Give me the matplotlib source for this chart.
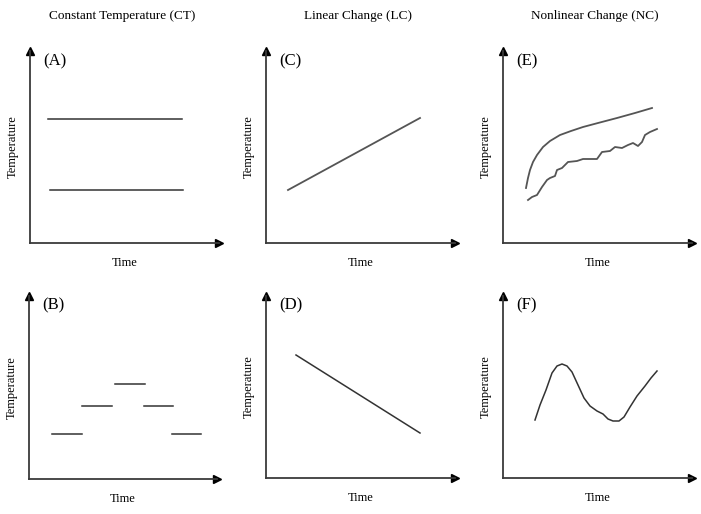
import matplotlib
matplotlib.use("Agg")
import matplotlib.pyplot as plt

plt.rcParams['font.family'] = ['Liberation Serif', 'DejaVu Serif']

W, H = 701, 514

# Column titles
titles = ["Constant Temperature (CT)", "Linear Change (LC)", "Nonlinear Change (NC)"]
panel_labels = ["(A)", "(C)", "(E)", "(B)", "(D)", "(F)"]
x_label = "Time"
y_label = "Temperature"

# Panel A: two constant temperatures
a_t1 = [18, 152]; a_y1 = [124, 124]
a_t2 = [20, 153]; a_y2 = [53, 53]

# Panel B: stepped constant temperatures
b_starts = [23, 53, 86, 115, 143]
b_ends = [53, 83, 116, 144, 172]
b_levels = [45, 73, 95, 73, 45]

# Panel C: linear increase
c_t = [22, 154]; c_y = [53, 125]

# Panel D: linear decrease
d_t = [30, 154]; d_y = [123, 45]

# Panel E: smooth and fluctuating nonlinear increase
e_t1 = [23, 25, 27, 30, 34, 40, 47, 57, 68, 80, 95, 114, 132, 149]
e_y1 = [55, 65, 73, 81, 88, 96, 102, 108, 112, 116, 120, 125, 130, 135]
e_t2 = [25, 29, 34, 39, 44, 47, 52, 54, 59, 65, 74, 80, 94, 99, 107, 112,
        119, 125, 130, 135, 139, 142, 147, 154]
e_y2 = [43, 46, 48, 56, 63, 65, 67, 73, 75, 81, 82, 84, 84, 91, 92, 96,
        95, 98, 100, 97, 101, 108, 111, 114]

# Panel F: oscillating temperature
f_t = [32, 37, 43, 49, 54, 59, 64, 69, 75, 81, 87, 94, 100, 105, 110, 116,
       121, 127, 134, 142, 148, 154]
f_y = [58, 73, 88, 105, 112, 114, 112, 106, 93, 80, 72, 67, 64, 59, 57, 57,
       61, 71, 82, 92, 100, 107]

# Axes geometry (pixel origin, width, height)
origins = [(30, 243), (266, 243), (503, 243), (29, 479), (266, 478), (503, 478)]
ax_w = [189, 189, 189, 188, 189, 189]
ax_h = [192, 192, 192, 183, 182, 182]

fig = plt.figure(figsize=(W / 100, H / 100), dpi=100)

axes = []
for (x0, y0), w, h in zip(origins, ax_w, ax_h):
    ax = fig.add_axes([x0 / W, 1 - y0 / H, w / W, h / H])
    ax.set_xlim(0, w)
    ax.set_ylim(0, h)
    ax.set_facecolor('none')
    for s in ['top', 'right']:
        ax.spines[s].set_visible(False)
    for s in ['left', 'bottom']:
        ax.spines[s].set_color('#3a3a3a')
        ax.spines[s].set_linewidth(1.3)
    ax.set_xticks([]); ax.set_yticks([])
    ax.plot(1, 0, '>', color='black', markersize=6, transform=ax.transAxes, clip_on=False)
    ax.plot(0, 1, '^', color='black', markersize=6, transform=ax.transAxes, clip_on=False)
    ax.set_xlabel(x_label, fontsize=9, labelpad=10)
    ax.set_ylabel(y_label, fontsize=9, labelpad=8)
    axes.append(ax)

axA, axC, axE, axB, axD, axF = axes
line_kw = dict(color='#333333', linewidth=1.1)
gray_kw = dict(color='#555555', linewidth=1.3)

axA.plot(a_t1, a_y1, **line_kw)
axA.plot(a_t2, a_y2, **line_kw)
for s, e, lv in zip(b_starts, b_ends, b_levels):
    axB.plot([s, e], [lv, lv], **line_kw)
axC.plot(c_t, c_y, **gray_kw)
axD.plot(d_t, d_y, **line_kw)
axE.plot(e_t1, e_y1, **gray_kw)
axE.plot(e_t2, e_y2, **gray_kw)
axF.plot(f_t, f_y, **line_kw)

for ax, lab in zip(axes, panel_labels):
    ax.text(0.07, 0.99, lab, transform=ax.transAxes, fontsize=12, ha='left', va='top')

for i, t in enumerate(titles):
    fig.text((origins[i][0] + 92) / W, 1 - 16 / H, t, fontsize=9.5, ha='center', va='center')

fig.savefig('out.png', dpi=100)
